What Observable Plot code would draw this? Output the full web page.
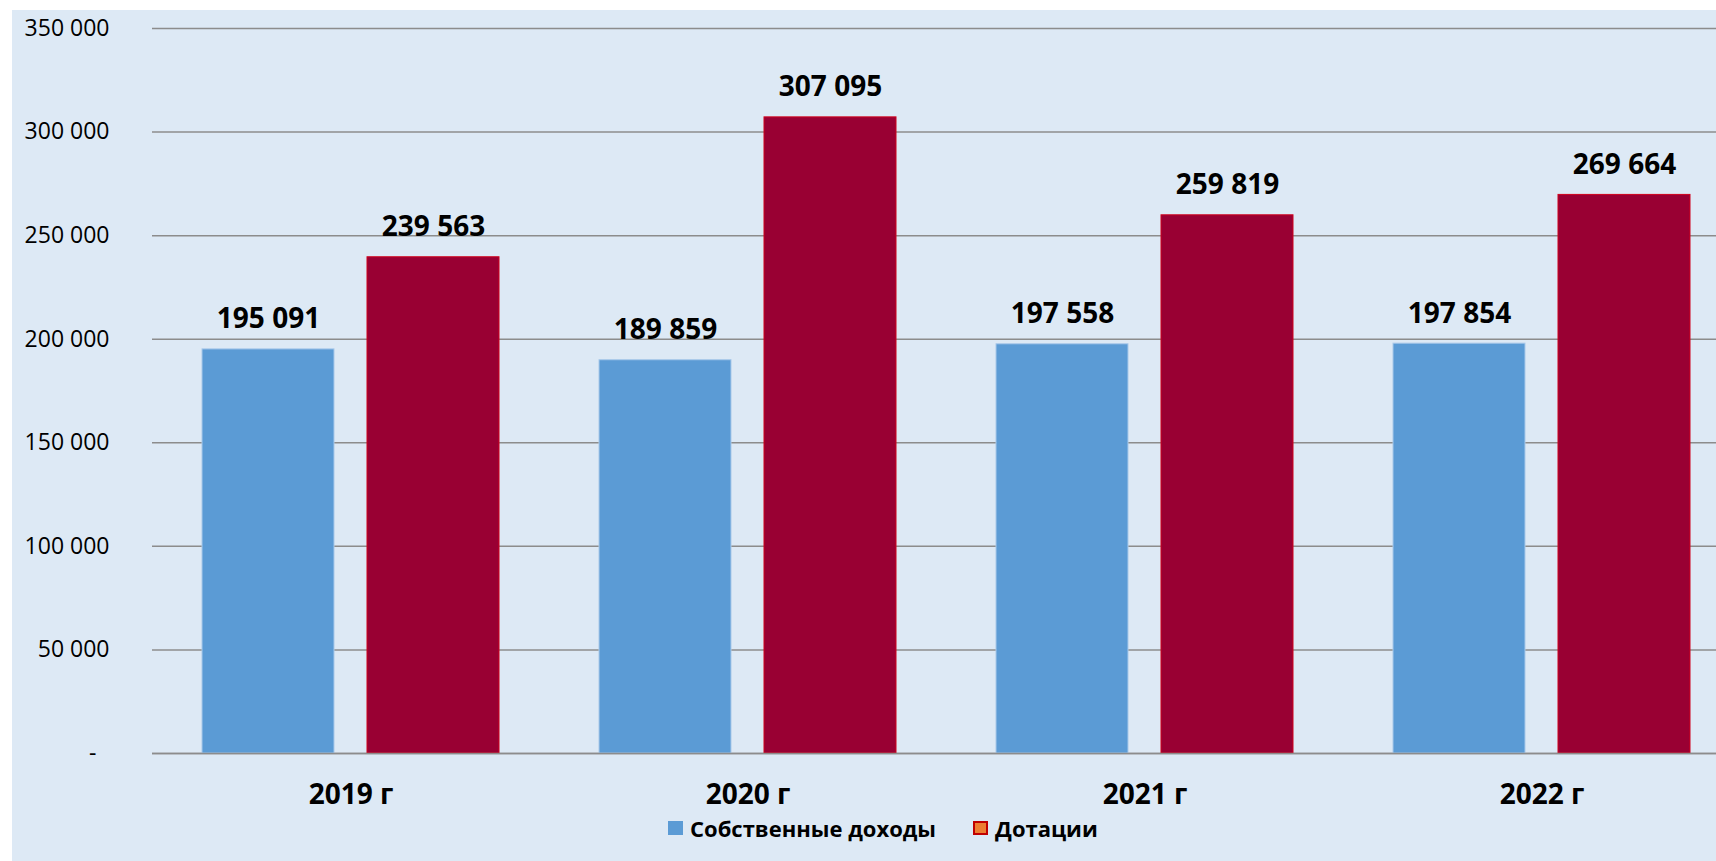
<!DOCTYPE html>
<html>
<head>
<meta charset="utf-8">
<script src="https://cdn.jsdelivr.net/npm/d3@7"></script>
<script src="https://cdn.jsdelivr.net/npm/@observablehq/plot@0.6"></script>
<style>
  html, body { margin: 0; padding: 0; background: #ffffff; width: 1716px; height: 861px; overflow: hidden; }
  #panel { position: absolute; left: 12px; top: 10px; width: 1704px; height: 851px; background: #dde9f5; overflow: hidden; font-family: "Open Sans", sans-serif; }
  #chart { position: absolute; left: 0; top: 0; width: 1728px; }
  #chart svg { max-width: none !important; }
  #legend { position: absolute; left: 656px; top: 803px; display: flex; align-items: center; font-weight: 700; font-size: 22px; color: #000; white-space: nowrap; }
  .sw { display: inline-block; width: 15px; height: 14px; box-sizing: border-box; margin-right: 7px; }
  .item { display: flex; align-items: center; margin-right: 37px; }
</style>
</head>
<body>
<div id="panel">
  <div id="chart"></div>
  <div id="legend"></div>
</div>
<script>
const years = ["2019 г", "2020 г", "2021 г", "2022 г"];
const seriesNames = ["Собственные доходы", "Дотации"];
const ownIncome = [195091, 189859, 197558, 197854];
const subsidies = [239563, 307095, 259819, 269664];
const yTicks = [0, 50000, 100000, 150000, 200000, 250000, 300000, 350000];
const fills = ["#5b9bd5", "#990033"];
const strokes = ["#a9c9ea", "#d0001c"];
const legendFills = ["#5b9bd5", "#ed7d31"];
const legendStrokes = ["#5b9bd5", "#c00000"];

const rows = [];
years.forEach((y, i) => {
  rows.push({year: y, series: seriesNames[0], value: ownIncome[i]});
  rows.push({year: y, series: seriesNames[1], value: subsidies[i]});
});

const fmt = v => v === 0 ? "-\u2007" : d3.format(",")(v).replace(/,/g, " ");
const fmtLabel = v => d3.format(",")(v).replace(/,/g, " ");

const chart = Plot.plot({
  width: 1728,
  height: 805,
  marginLeft: 140,
  marginRight: 0,
  marginTop: 18,
  marginBottom: 62,
  style: {background: "transparent", fontFamily: "Open Sans, sans-serif", color: "#000", maxWidth: "none"},
  fx: {domain: years, paddingInner: 0, paddingOuter: 0, label: null, axis: null},
  x: {domain: seriesNames, paddingInner: 0.2, paddingOuter: 0.303, axis: null},
  y: {domain: [0, 350000], axis: null},
  marks: [
    Plot.gridY(yTicks, {stroke: "#8c8c8c", strokeOpacity: 1, strokeWidth: 1.5}),
    ...seriesNames.map((s, i) => Plot.barY(rows.filter(d => d.series === s), {
      fx: "year", x: "series", y: "value", fill: fills[i], stroke: strokes[i], strokeWidth: 1
    })),
    Plot.ruleY([0], {stroke: "#8c8c8c", strokeWidth: 1.5}),
    Plot.text(rows, {fx: "year", x: "series", y: "value", text: d => fmtLabel(d.value),
      dy: -30, fontSize: 28, fontWeight: 700, fill: "#000", lineAnchor: "middle"}),
    Plot.axisY(yTicks, {tickSize: 0, tickPadding: 43, tickFormat: fmt, fontSize: 23, fill: "#000", label: null}),
    Plot.axisFx({anchor: "bottom", tickSize: 0, tickPadding: 31, fontSize: 28, fontWeight: 700, fill: "#000", label: null})
  ]
});
document.getElementById("chart").appendChild(chart);

const legend = document.getElementById("legend");
seriesNames.forEach((s, i) => {
  const item = document.createElement("span");
  item.className = "item";
  const sw = document.createElement("span");
  sw.className = "sw";
  sw.style.background = legendFills[i];
  sw.style.border = i === 1 ? `2px solid ${legendStrokes[i]}` : "none";
  item.appendChild(sw);
  const t = document.createElement("span");
  t.textContent = s;
  item.appendChild(t);
  legend.appendChild(item);
});
</script>
</body>
</html>
